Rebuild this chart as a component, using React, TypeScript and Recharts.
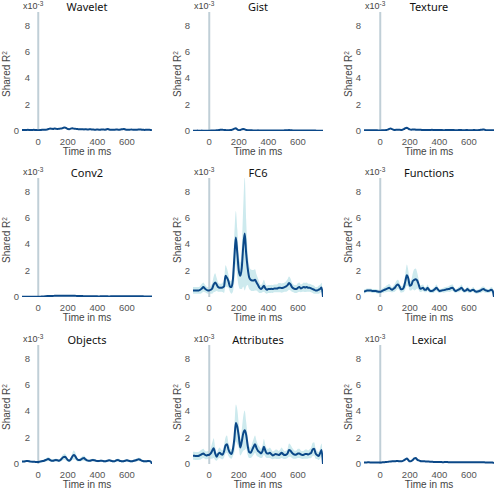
import React from 'react';
import { ComposedChart, Area, Line, XAxis, YAxis, ReferenceLine } from 'recharts';

// time axis (ms), one sample every 10 ms
const times = [
  -110, -100, -90, -80, -70, -60, -50, -40, -30, -20,
  -10, 0, 10, 20, 30, 40, 50, 60, 70, 80,
  90, 100, 110, 120, 130, 140, 150, 160, 170, 180,
  190, 200, 210, 220, 230, 240, 250, 260, 270, 280,
  290, 300, 310, 320, 330, 340, 350, 360, 370, 380,
  390, 400, 410, 420, 430, 440, 450, 460, 470, 480,
  490, 500, 510, 520, 530, 540, 550, 560, 570, 580,
  590, 600, 610, 620, 630, 640, 650, 660, 670, 680,
  690, 700, 710, 720, 730, 740, 750, 760, 770,
];

const xTicks = [0, 200, 400, 600];
const yTicks = [0, 2, 4, 6, 8];

// shared R^2 (x10^-3)
const wavelet = [
  0.08, 0.08, 0.07, 0.08, 0.09, 0.08, 0.07, 0.08, 0.09, 0.08,
  0.07, 0.06, 0.07, 0.08, 0.1, 0.1, 0.09, 0.12, 0.15, 0.18,
  0.17, 0.16, 0.18, 0.17, 0.15, 0.17, 0.18, 0.2, 0.25, 0.27,
  0.22, 0.15, 0.14, 0.18, 0.2, 0.18, 0.17, 0.15, 0.14, 0.13,
  0.14, 0.13, 0.12, 0.13, 0.12, 0.12, 0.13, 0.12, 0.11, 0.1,
  0.1, 0.11, 0.1, 0.1, 0.12, 0.11, 0.1, 0.12, 0.15, 0.12,
  0.1, 0.09, 0.1, 0.1, 0.11, 0.1, 0.1, 0.12, 0.14, 0.15,
  0.12, 0.1, 0.09, 0.1, 0.11, 0.1, 0.09, 0.1, 0.1, 0.11,
  0.12, 0.1, 0.09, 0.08, 0.09, 0.1, 0.09, 0.08, 0.05,
];

const gist = [
  0.02, 0.02, 0.02, 0.03, 0.02, 0.02, 0.03, 0.02, 0.02, 0.02,
  0.02, 0.02, 0.03, 0.03, 0.03, 0.04, 0.05, 0.06, 0.08, 0.1,
  0.09, 0.08, 0.07, 0.06, 0.06, 0.07, 0.08, 0.12, 0.18, 0.2,
  0.12, 0.06, 0.08, 0.12, 0.15, 0.12, 0.08, 0.06, 0.05, 0.05,
  0.05, 0.04, 0.04, 0.04, 0.05, 0.04, 0.04, 0.03, 0.03, 0.03,
  0.03, 0.03, 0.04, 0.04, 0.03, 0.03, 0.03, 0.04, 0.04, 0.04,
  0.04, 0.04, 0.05, 0.05, 0.06, 0.07, 0.06, 0.05, 0.04, 0.03,
  0.03, 0.03, 0.03, 0.03, 0.03, 0.03, 0.03, 0.03, 0.03, 0.03,
  0.03, 0.03, 0.03, 0.03, 0.02, 0.02, 0.02, 0.02, 0.02,
];

const texture = [
  0.05, 0.05, 0.05, 0.06, 0.05, 0.05, 0.05, 0.06, 0.05, 0.05,
  0.04, 0.04, 0.05, 0.05, 0.06, 0.07, 0.1, 0.15, 0.18, 0.14,
  0.1, 0.08, 0.09, 0.1, 0.09, 0.08, 0.1, 0.14, 0.22, 0.25,
  0.18, 0.12, 0.1, 0.11, 0.12, 0.1, 0.09, 0.1, 0.1, 0.08,
  0.07, 0.08, 0.08, 0.07, 0.07, 0.08, 0.09, 0.08, 0.07, 0.07,
  0.07, 0.08, 0.08, 0.07, 0.06, 0.07, 0.08, 0.07, 0.07, 0.08,
  0.08, 0.07, 0.06, 0.06, 0.07, 0.07, 0.07, 0.06, 0.06, 0.07,
  0.07, 0.06, 0.06, 0.06, 0.07, 0.07, 0.06, 0.06, 0.07, 0.09,
  0.1, 0.12, 0.08, 0.06, 0.06, 0.05, 0.05, 0.05, 0.05,
];

const conv2 = [
  0.02, 0.02, 0.02, 0.02, 0.02, 0.02, 0.02, 0.02, 0.02, 0.02,
  0.02, 0.02, 0.02, 0.03, 0.03, 0.04, 0.06, 0.08, 0.08, 0.08,
  0.08, 0.08, 0.09, 0.09, 0.09, 0.09, 0.1, 0.1, 0.1, 0.1,
  0.1, 0.1, 0.1, 0.1, 0.09, 0.09, 0.09, 0.08, 0.08, 0.08,
  0.07, 0.07, 0.06, 0.06, 0.05, 0.05, 0.05, 0.05, 0.05, 0.05,
  0.05, 0.05, 0.04, 0.05, 0.05, 0.06, 0.05, 0.05, 0.05, 0.04,
  0.05, 0.05, 0.05, 0.06, 0.05, 0.05, 0.05, 0.05, 0.05, 0.05,
  0.05, 0.05, 0.05, 0.05, 0.05, 0.05, 0.05, 0.05, 0.05, 0.05,
  0.05, 0.05, 0.05, 0.04, 0.04, 0.04, 0.04, 0.04, 0.04,
];

const fc6 = [
  0.5, 0.5, 0.5, 0.5, 0.5, 0.55, 0.65, 0.75, 0.65, 0.55,
  0.5, 0.5, 0.55, 0.65, 0.95, 1.1, 0.95, 0.75, 0.7, 0.7,
  0.72, 0.8, 1.6, 1.45, 1.2, 0.8, 0.75, 1.3, 3.0, 4.5,
  3.3, 2.0, 1.6, 2.2, 3.8, 4.8, 3.3, 2.2, 1.5, 1.3,
  1.25, 1.25, 1.3, 1.1, 0.9, 0.7, 0.6, 0.7, 0.85, 0.65,
  0.55, 0.6, 0.6, 0.62, 0.6, 0.65, 0.65, 0.65, 0.7, 0.7,
  0.68, 0.7, 0.75, 0.8, 0.9, 1.05, 0.95, 0.75, 0.65, 0.6,
  0.6, 0.7, 0.75, 0.65, 0.7, 0.75, 0.72, 0.75, 0.7, 0.7,
  0.65, 0.6, 0.55, 0.5, 0.5, 0.55, 0.6, 0.72, 0,
];
const fc6Spread = [
  0.25, 0.25, 0.25, 0.25, 0.25, 0.3, 0.35, 0.35, 0.3, 0.25,
  0.25, 0.25, 0.3, 0.4, 0.6, 0.7, 0.5, 0.35, 0.3, 0.3,
  0.35, 0.5, 0.8, 0.7, 0.5, 0.4, 0.5, 0.9, 1.8, 2.0,
  1.8, 1.2, 1.0, 1.6, 3.0, 4.3, 2.5, 1.3, 0.9, 0.8,
  0.8, 0.8, 0.8, 0.6, 0.5, 0.4, 0.3, 0.35, 0.45, 0.35,
  0.3, 0.3, 0.3, 0.3, 0.3, 0.3, 0.3, 0.3, 0.35, 0.35,
  0.35, 0.35, 0.35, 0.4, 0.45, 0.5, 0.45, 0.35, 0.3, 0.3,
  0.3, 0.35, 0.35, 0.3, 0.3, 0.35, 0.35, 0.35, 0.3, 0.3,
  0.3, 0.3, 0.3, 0.25, 0.25, 0.3, 0.3, 0.35, 0,
];

const functions = [
  0.4, 0.45, 0.5, 0.5, 0.5, 0.48, 0.45, 0.45, 0.45, 0.42,
  0.4, 0.4, 0.45, 0.5, 0.55, 0.6, 0.65, 0.7, 0.62, 0.55,
  0.62, 0.72, 0.88, 0.95, 0.8, 0.58, 0.6, 0.75, 1.2, 1.65,
  1.4, 0.85, 0.9, 1.2, 1.3, 1.35, 1.25, 0.95, 0.62, 0.65,
  0.7, 0.55, 0.55, 0.7, 0.55, 0.45, 0.45, 0.5, 0.6, 0.7,
  0.58, 0.45, 0.48, 0.5, 0.52, 0.55, 0.58, 0.6, 0.62, 0.68,
  0.7, 0.55, 0.45, 0.5, 0.55, 0.62, 0.7, 0.55, 0.45, 0.5,
  0.6, 0.5, 0.45, 0.52, 0.55, 0.45, 0.4, 0.42, 0.45, 0.5,
  0.58, 0.6, 0.52, 0.48, 0.45, 0.48, 0.55, 0.5, 0,
];
const functionsSpread = [
  0.15, 0.15, 0.15, 0.15, 0.15, 0.15, 0.15, 0.15, 0.15, 0.15,
  0.15, 0.15, 0.15, 0.2, 0.2, 0.25, 0.25, 0.3, 0.25, 0.2,
  0.25, 0.3, 0.35, 0.35, 0.3, 0.25, 0.25, 0.35, 0.6, 0.8,
  0.6, 0.35, 0.4, 0.6, 0.8, 0.8, 0.6, 0.4, 0.25, 0.25,
  0.25, 0.2, 0.2, 0.25, 0.2, 0.15, 0.15, 0.2, 0.2, 0.25,
  0.2, 0.15, 0.15, 0.15, 0.2, 0.2, 0.2, 0.2, 0.25, 0.25,
  0.25, 0.2, 0.15, 0.15, 0.2, 0.2, 0.25, 0.2, 0.15, 0.15,
  0.2, 0.2, 0.15, 0.15, 0.2, 0.15, 0.15, 0.15, 0.15, 0.2,
  0.2, 0.2, 0.2, 0.15, 0.15, 0.15, 0.2, 0.2, 0,
];

const objects = [
  0.18, 0.18, 0.2, 0.22, 0.22, 0.2, 0.18, 0.17, 0.17, 0.16,
  0.15, 0.15, 0.18, 0.2, 0.22, 0.25, 0.3, 0.35, 0.38, 0.3,
  0.25, 0.25, 0.28, 0.3, 0.28, 0.25, 0.3, 0.42, 0.52, 0.55,
  0.45, 0.3, 0.25, 0.35, 0.55, 0.68, 0.6, 0.4, 0.3, 0.3,
  0.35, 0.42, 0.45, 0.35, 0.28, 0.25, 0.25, 0.28, 0.3, 0.28,
  0.25, 0.22, 0.22, 0.25, 0.25, 0.22, 0.2, 0.22, 0.25, 0.28,
  0.25, 0.22, 0.2, 0.22, 0.28, 0.3, 0.25, 0.22, 0.2, 0.22,
  0.25, 0.28, 0.25, 0.22, 0.2, 0.22, 0.25, 0.28, 0.32, 0.35,
  0.32, 0.25, 0.22, 0.2, 0.2, 0.22, 0.22, 0.2, 0,
];
const objectsSpread = [
  0.06, 0.06, 0.06, 0.06, 0.06, 0.06, 0.06, 0.06, 0.06, 0.06,
  0.06, 0.06, 0.07, 0.08, 0.08, 0.1, 0.12, 0.15, 0.15, 0.12,
  0.1, 0.1, 0.1, 0.12, 0.1, 0.1, 0.12, 0.18, 0.22, 0.25,
  0.2, 0.12, 0.1, 0.15, 0.25, 0.35, 0.28, 0.18, 0.12, 0.12,
  0.14, 0.18, 0.2, 0.15, 0.1, 0.08, 0.08, 0.1, 0.1, 0.1,
  0.08, 0.08, 0.08, 0.08, 0.08, 0.08, 0.08, 0.08, 0.08, 0.08,
  0.08, 0.08, 0.08, 0.08, 0.1, 0.12, 0.1, 0.08, 0.08, 0.08,
  0.08, 0.1, 0.08, 0.08, 0.08, 0.08, 0.1, 0.1, 0.12, 0.12,
  0.12, 0.1, 0.08, 0.08, 0.08, 0.08, 0.08, 0.08, 0,
];

const attributes = [
  0.63, 0.62, 0.6, 0.6, 0.62, 0.68, 0.75, 0.8, 0.7, 0.65,
  0.68, 0.7, 0.8, 1.0, 1.2, 0.8, 0.55, 0.75, 0.85, 0.75,
  0.7, 0.95, 1.4, 1.5, 1.1, 0.85, 0.75, 1.1, 1.9, 3.1,
  2.8, 2.1, 1.25, 1.7, 2.3, 2.55, 2.2, 1.4, 0.9, 0.85,
  1.05, 1.3, 1.5, 1.2, 1.0, 0.9, 0.8, 0.95, 1.3, 1.0,
  0.8, 0.8, 0.85, 0.75, 0.65, 0.7, 0.75, 0.72, 0.68, 0.75,
  0.85, 0.75, 0.68, 0.7, 0.8, 1.05, 1.0, 0.85, 0.75, 0.7,
  0.72, 0.8, 0.8, 0.72, 0.68, 0.7, 0.75, 0.75, 0.72, 0.78,
  0.85, 1.1, 1.15, 0.8, 0.68, 0.6, 0.8, 1.05, 0,
];
const attributesSpread = [
  0.3, 0.3, 0.3, 0.3, 0.3, 0.35, 0.35, 0.35, 0.3, 0.3,
  0.3, 0.3, 0.4, 0.6, 0.75, 0.5, 0.3, 0.35, 0.4, 0.35,
  0.35, 0.45, 0.6, 0.65, 0.5, 0.4, 0.35, 0.5, 1.0, 1.4,
  1.3, 0.9, 0.6, 0.9, 1.3, 1.5, 1.0, 0.7, 0.45, 0.4,
  0.5, 0.6, 0.65, 0.55, 0.45, 0.4, 0.35, 0.45, 0.6, 0.45,
  0.35, 0.35, 0.4, 0.35, 0.3, 0.3, 0.35, 0.35, 0.3, 0.35,
  0.4, 0.35, 0.3, 0.3, 0.35, 0.5, 0.45, 0.4, 0.35, 0.3,
  0.3, 0.35, 0.35, 0.3, 0.3, 0.3, 0.35, 0.35, 0.3, 0.35,
  0.4, 0.5, 0.5, 0.4, 0.3, 0.3, 0.4, 0.5, 0,
];

const lexical = [
  0.12, 0.12, 0.12, 0.13, 0.12, 0.12, 0.12, 0.12, 0.11, 0.11,
  0.11, 0.11, 0.12, 0.13, 0.14, 0.15, 0.16, 0.18, 0.19, 0.2,
  0.2, 0.21, 0.22, 0.22, 0.2, 0.2, 0.22, 0.28, 0.35, 0.42,
  0.3, 0.2, 0.22, 0.3, 0.42, 0.45, 0.33, 0.27, 0.23, 0.21,
  0.2, 0.2, 0.19, 0.18, 0.18, 0.17, 0.17, 0.16, 0.16, 0.15,
  0.15, 0.15, 0.15, 0.14, 0.14, 0.15, 0.15, 0.14, 0.14, 0.14,
  0.14, 0.14, 0.13, 0.13, 0.14, 0.14, 0.14, 0.13, 0.13, 0.13,
  0.13, 0.13, 0.13, 0.13, 0.14, 0.14, 0.13, 0.13, 0.13, 0.13,
  0.13, 0.13, 0.12, 0.12, 0.12, 0.12, 0.12, 0.11, 0.08,
];

const titles = ['Wavelet', 'Gist', 'Texture', 'Conv2', 'FC6', 'Functions', 'Objects', 'Attributes', 'Lexical'];
const means = [wavelet, gist, texture, conv2, fc6, functions, objects, attributes, lexical];
const spreads = [null, null, null, null, fc6Spread, functionsSpread, objectsSpread, attributesSpread, null];

const colLeft = [0, 171, 342];
const rowTop = [0, 166, 333];

const LINE = '#0b4888';
const BAND = '#cdeaee';
const ONSET = '#c0cfd7';
const TICK = '#555';

// left column: the non-zero y labels sit closer to the onset line
const YTick = ({ x, y, payload, shift }: any) => (
  <text
    x={payload.value === 0 ? x : x + shift}
    y={y}
    dy="0.35em"
    textAnchor="end"
    fontSize={9.5}
    fill={TICK}
  >
    {payload.value}
  </text>
);

const sup = { fontSize: 6.5, verticalAlign: 'top', lineHeight: '6px' } as const;

const Panel = ({ title, mean, spread, left, top, shift }: any) => {
  const data = times.map((t, i) => ({
    t,
    mean: mean[i],
    band: spread ? [Math.max(0, mean[i] - spread[i]), mean[i] + spread[i]] : null,
  }));

  return (
    <div style={{ position: 'absolute', left, top, width: 171, height: 166 }}>
      <ComposedChart width={152} height={166} data={data} margin={{ top: 12, right: 0, bottom: 0, left: 0 }}>
        <XAxis
          dataKey="t"
          type="number"
          domain={[-110, 770]}
          ticks={xTicks}
          allowDataOverflow
          axisLine={false}
          tickLine={false}
          tickSize={6}
          tickMargin={1}
          height={35}
          tick={{ fontSize: 9.5, fill: TICK }}
        />
        <YAxis
          type="number"
          domain={[0, 9]}
          ticks={yTicks}
          allowDataOverflow
          axisLine={false}
          tickLine={false}
          tickSize={2}
          tickMargin={1}
          width={22}
          tick={<YTick shift={shift} />}
        />
        <ReferenceLine x={0} stroke={ONSET} strokeWidth={2} />
        {spread && (
          <Area dataKey="band" type="monotone" stroke="none" fill={BAND} fillOpacity={1} isAnimationActive={false} />
        )}
        <Line dataKey="mean" type="monotone" stroke={LINE} strokeWidth={2} dot={false} isAnimationActive={false} />
      </ComposedChart>

      <div style={{ position: 'absolute', left: 22, top: 0, width: 130, textAlign: 'center', fontFamily: '"Noto Sans", sans-serif', fontSize: 11, lineHeight: '14px', color: '#111' }}>
        {title}
      </div>
      <div style={{ position: 'absolute', left: 23, top: 1, fontSize: 9, lineHeight: '10px', color: '#444' }}>
        x10<sup style={sup}>-3</sup>
      </div>
      <div
        style={{
          position: 'absolute', left: 7, top: 74, transform: 'translate(-50%, -50%) rotate(-90deg)',
          whiteSpace: 'nowrap', fontSize: 10, lineHeight: '10px', color: '#444',
        }}
      >
        Shared R<sup style={sup}>2</sup>
      </div>
      <div style={{ position: 'absolute', left: 22, top: 146, width: 130, textAlign: 'center', fontSize: 10, lineHeight: '12px', color: '#444' }}>
        Time in ms
      </div>
    </div>
  );
};

export default function App() {
  return (
    <div style={{ position: 'absolute', left: 0, top: 0, width: 496, height: 490, background: '#fff', overflow: 'hidden', fontFamily: '"Liberation Sans", Arial, sans-serif' }}>
      {titles.map((title, i) => (
        <Panel
          key={title}
          title={title}
          mean={means[i]}
          spread={spreads[i]}
          left={colLeft[i % 3]}
          top={rowTop[Math.floor(i / 3)]}
          shift={i % 3 === 0 ? 11 : 0}
        />
      ))}
    </div>
  );
}
